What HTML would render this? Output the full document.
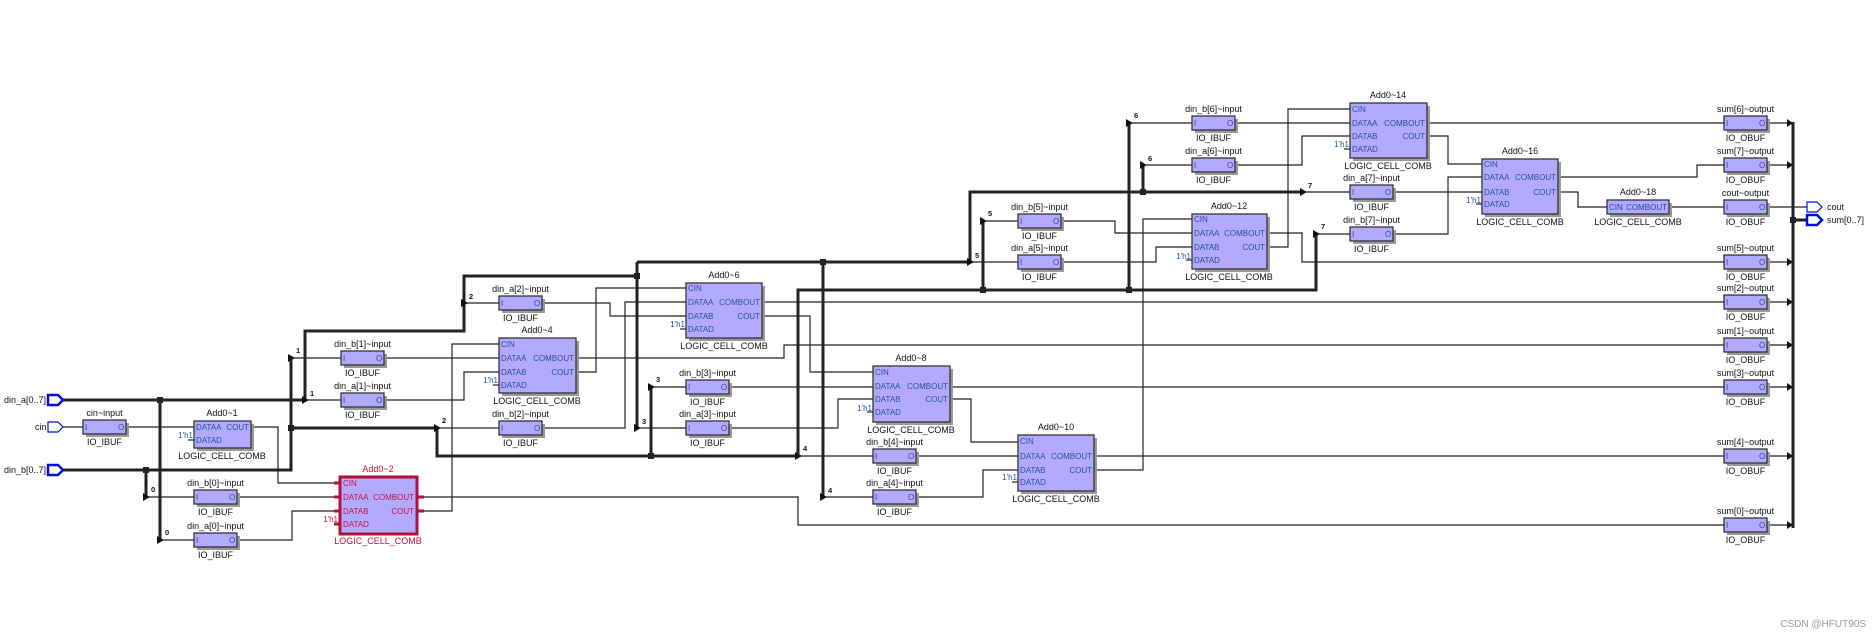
<!DOCTYPE html>
<html><head><meta charset="utf-8">
<style>
html,body{margin:0;padding:0;background:#fff;}
svg{display:block;}
text{font-family:"Liberation Sans",sans-serif;}
.t{font-size:9px;fill:#111;}
.p{font-size:8px;fill:#1f4e9e;}
.n{font-size:7.5px;fill:#111;font-weight:bold;}
.r{font-size:9px;fill:#c0103a;}
.rp{font-size:8px;fill:#c0103a;}
.box{fill:#b3aaff;stroke:#333;stroke-width:1.3;}
.sh{fill:#9a9a9a;}
.w{fill:none;stroke:#222;stroke-width:1.2;}
.b{fill:none;stroke:#222;stroke-width:3;}
</style></head><body>
<svg width="1872" height="636" viewBox="0 0 1872 636" xmlns="http://www.w3.org/2000/svg">
<rect width="1872" height="636" fill="#fff"/>

<g class="w">
<path d="M63,427H83"/>
<path d="M127,427H194"/>
<path d="M251,427H278V483H340"/>
<path d="M237,497H340"/>
<path d="M237,540H292V511H340"/>
<path d="M417,497H798V525H1724"/>
<path d="M417,511H452V344H499"/>
<path d="M382,358H499"/>
<path d="M382,400H464V372H499"/>
<path d="M576,358H784V345H1724"/>
<path d="M576,372H596V288H686"/>
<path d="M542,303H610V316H686"/>
<path d="M542,428H625V302H686"/>
<path d="M762,302H1724"/>
<path d="M762,316H810V372H873"/>
<path d="M728,387H1724"/>
<path d="M728,428H838V399H873"/>
<path d="M950,399H971V442H1018"/>
<path d="M916,456H1724"/>
<path d="M916,497H983V470H1018"/>
<path d="M1094,470H1143V219H1192"/>
<path d="M1060,221H1115V233H1192"/>
<path d="M1060,262H1156V247H1192"/>
<path d="M1267,233H1302V262H1724"/>
<path d="M1267,247H1288V109H1350"/>
<path d="M1233,123H1350"/>
<path d="M1233,165H1302V136H1350"/>
<path d="M1427,123H1724"/>
<path d="M1427,136H1448V164H1482"/>
<path d="M1392,192H1482"/>
<path d="M1392,234H1448V177H1482"/>
<path d="M1558,177H1697V165H1724"/>
<path d="M1558,192H1578V207H1607"/>
<path d="M1669,207H1724"/>
<path d="M1767,207H1807"/>
<path d="M305,400H341"/><path d="M464,303H499"/><path d="M637,428H686"/>
<path d="M970,262H1018"/><path d="M823,497H873"/><path d="M1143,165H1192"/>
<path d="M1303,192H1350"/><path d="M160,540H194"/>
<path d="M291,358H341"/><path d="M146,497H194"/><path d="M437,428H499"/>
<path d="M651,387H686"/><path d="M798,456H873"/><path d="M983,221H1018"/>
<path d="M1129,123H1192"/><path d="M1316,234H1350"/>
<path d="M1767,123H1793"/><path d="M1767,165H1793"/><path d="M1767,262H1793"/>
<path d="M1767,302H1793"/><path d="M1767,345H1793"/><path d="M1767,387H1793"/>
<path d="M1767,456H1793"/><path d="M1767,525H1793"/>
</g>

<g class="b">
<path d="M63,400H305V331H464V276H637"/>
<path d="M637,262V428"/>
<path d="M637,262H970V192H1303"/>
<path d="M160,400V540"/>
<path d="M823,262V497"/>
<path d="M1143,192V165"/>
<path d="M63,470H291V358"/>
<path d="M146,470V497"/>
<path d="M291,428H437V456H798V290H1316V234"/>
<path d="M651,456V387"/>
<path d="M983,290V221"/>
<path d="M1129,290V123"/>
<path d="M1793,122V528"/>
<path d="M1793,220H1807"/>
</g>

<g fill="#222">
<rect x="157" y="397" width="6" height="6"/><rect x="143" y="467" width="6" height="6"/>
<rect x="288" y="425" width="6" height="6"/><rect x="634" y="273" width="6" height="6"/>
<rect x="820" y="259" width="6" height="6"/><rect x="648" y="453" width="6" height="6"/>
<rect x="980" y="287" width="6" height="6"/><rect x="1126" y="287" width="6" height="6"/>
<rect x="1140" y="189" width="6" height="6"/><rect x="1790" y="217" width="6" height="6"/>
</g>

<g fill="#111">
<path d="M302,396L309,400L302,404Z"/><path d="M461,299L468,303L461,307Z"/>
<path d="M634,424L641,428L634,432Z"/><path d="M967,258L974,262L967,266Z"/>
<path d="M820,493L827,497L820,501Z"/><path d="M1140,161L1147,165L1140,169Z"/>
<path d="M1300,188L1307,192L1300,196Z"/><path d="M157,536L164,540L157,544Z"/>
<path d="M288,354L295,358L288,362Z"/><path d="M143,493L150,497L143,501Z"/>
<path d="M434,424L441,428L434,432Z"/><path d="M648,383L655,387L648,391Z"/>
<path d="M795,452L802,456L795,460Z"/><path d="M980,217L987,221L980,225Z"/>
<path d="M1126,119L1133,123L1126,127Z"/><path d="M1313,230L1320,234L1313,238Z"/>
<path d="M1787,119L1793,123L1787,127Z"/><path d="M1787,161L1793,165L1787,169Z"/>
<path d="M1787,258L1793,262L1787,266Z"/><path d="M1787,298L1793,302L1787,306Z"/>
<path d="M1787,341L1793,345L1787,349Z"/><path d="M1787,383L1793,387L1787,391Z"/>
<path d="M1787,452L1793,456L1787,460Z"/><path d="M1787,521L1793,525L1787,529Z"/>
</g>
<g class="n">
<text x="310" y="396">1</text><text x="469" y="299">2</text><text x="642" y="424">3</text>
<text x="975" y="258">5</text><text x="828" y="493">4</text><text x="1148" y="161">6</text>
<text x="1308" y="188">7</text><text x="165" y="535">0</text>
<text x="296" y="353">1</text><text x="151" y="492">0</text><text x="442" y="423">2</text>
<text x="656" y="382">3</text><text x="803" y="451">4</text><text x="988" y="216">5</text>
<text x="1134" y="118">6</text><text x="1321" y="229">7</text>
</g>

<g fill="#fff" stroke="#0010e0">
<path d="M48,395H58L63,400L58,405H48Z" stroke-width="2.5"/>
<path d="M48,422H58L63,427L58,432H48Z" stroke-width="1.2"/>
<path d="M48,465H58L63,470L58,475H48Z" stroke-width="2.5"/>
<path d="M1807,202H1817L1822,207L1817,212H1807Z" stroke-width="1.2"/>
<path d="M1807,215H1817L1822,220L1817,225H1807Z" stroke-width="2.5"/>
</g>
<g class="t">
<text x="4" y="403">din_a[0..7]</text>
<text x="35" y="430">cin</text>
<text x="4" y="473">din_b[0..7]</text>
<text x="1827" y="210">cout</text>
<text x="1827" y="223">sum[0..7]</text>
</g>

<g>
<g transform="translate(83,420)"><rect class="sh" x="3" y="3" width="43" height="14"/><rect class="box" width="43" height="14"/><text class="p" x="2" y="10">I</text><text class="p" x="35" y="10">O</text><text class="t" x="21.5" y="-4" text-anchor="middle">cin~input</text><text class="t" x="21.5" y="25" text-anchor="middle">IO_IBUF</text></g>
<g transform="translate(194,490)"><rect class="sh" x="3" y="3" width="43" height="14"/><rect class="box" width="43" height="14"/><text class="p" x="2" y="10">I</text><text class="p" x="35" y="10">O</text><text class="t" x="21.5" y="-4" text-anchor="middle">din_b[0]~input</text><text class="t" x="21.5" y="25" text-anchor="middle">IO_IBUF</text></g>
<g transform="translate(194,533)"><rect class="sh" x="3" y="3" width="43" height="14"/><rect class="box" width="43" height="14"/><text class="p" x="2" y="10">I</text><text class="p" x="35" y="10">O</text><text class="t" x="21.5" y="-4" text-anchor="middle">din_a[0]~input</text><text class="t" x="21.5" y="25" text-anchor="middle">IO_IBUF</text></g>
<g transform="translate(341,351)"><rect class="sh" x="3" y="3" width="43" height="14"/><rect class="box" width="43" height="14"/><text class="p" x="2" y="10">I</text><text class="p" x="35" y="10">O</text><text class="t" x="21.5" y="-4" text-anchor="middle">din_b[1]~input</text><text class="t" x="21.5" y="25" text-anchor="middle">IO_IBUF</text></g>
<g transform="translate(341,393)"><rect class="sh" x="3" y="3" width="43" height="14"/><rect class="box" width="43" height="14"/><text class="p" x="2" y="10">I</text><text class="p" x="35" y="10">O</text><text class="t" x="21.5" y="-4" text-anchor="middle">din_a[1]~input</text><text class="t" x="21.5" y="25" text-anchor="middle">IO_IBUF</text></g>
<g transform="translate(499,296)"><rect class="sh" x="3" y="3" width="43" height="14"/><rect class="box" width="43" height="14"/><text class="p" x="2" y="10">I</text><text class="p" x="35" y="10">O</text><text class="t" x="21.5" y="-4" text-anchor="middle">din_a[2]~input</text><text class="t" x="21.5" y="25" text-anchor="middle">IO_IBUF</text></g>
<g transform="translate(499,421)"><rect class="sh" x="3" y="3" width="43" height="14"/><rect class="box" width="43" height="14"/><text class="p" x="2" y="10">I</text><text class="p" x="35" y="10">O</text><text class="t" x="21.5" y="-4" text-anchor="middle">din_b[2]~input</text><text class="t" x="21.5" y="25" text-anchor="middle">IO_IBUF</text></g>
<g transform="translate(686,380)"><rect class="sh" x="3" y="3" width="43" height="14"/><rect class="box" width="43" height="14"/><text class="p" x="2" y="10">I</text><text class="p" x="35" y="10">O</text><text class="t" x="21.5" y="-4" text-anchor="middle">din_b[3]~input</text><text class="t" x="21.5" y="25" text-anchor="middle">IO_IBUF</text></g>
<g transform="translate(686,421)"><rect class="sh" x="3" y="3" width="43" height="14"/><rect class="box" width="43" height="14"/><text class="p" x="2" y="10">I</text><text class="p" x="35" y="10">O</text><text class="t" x="21.5" y="-4" text-anchor="middle">din_a[3]~input</text><text class="t" x="21.5" y="25" text-anchor="middle">IO_IBUF</text></g>
<g transform="translate(873,449)"><rect class="sh" x="3" y="3" width="43" height="14"/><rect class="box" width="43" height="14"/><text class="p" x="2" y="10">I</text><text class="p" x="35" y="10">O</text><text class="t" x="21.5" y="-4" text-anchor="middle">din_b[4]~input</text><text class="t" x="21.5" y="25" text-anchor="middle">IO_IBUF</text></g>
<g transform="translate(873,490)"><rect class="sh" x="3" y="3" width="43" height="14"/><rect class="box" width="43" height="14"/><text class="p" x="2" y="10">I</text><text class="p" x="35" y="10">O</text><text class="t" x="21.5" y="-4" text-anchor="middle">din_a[4]~input</text><text class="t" x="21.5" y="25" text-anchor="middle">IO_IBUF</text></g>
<g transform="translate(1018,214)"><rect class="sh" x="3" y="3" width="43" height="14"/><rect class="box" width="43" height="14"/><text class="p" x="2" y="10">I</text><text class="p" x="35" y="10">O</text><text class="t" x="21.5" y="-4" text-anchor="middle">din_b[5]~input</text><text class="t" x="21.5" y="25" text-anchor="middle">IO_IBUF</text></g>
<g transform="translate(1018,255)"><rect class="sh" x="3" y="3" width="43" height="14"/><rect class="box" width="43" height="14"/><text class="p" x="2" y="10">I</text><text class="p" x="35" y="10">O</text><text class="t" x="21.5" y="-4" text-anchor="middle">din_a[5]~input</text><text class="t" x="21.5" y="25" text-anchor="middle">IO_IBUF</text></g>
<g transform="translate(1192,116)"><rect class="sh" x="3" y="3" width="43" height="14"/><rect class="box" width="43" height="14"/><text class="p" x="2" y="10">I</text><text class="p" x="35" y="10">O</text><text class="t" x="21.5" y="-4" text-anchor="middle">din_b[6]~input</text><text class="t" x="21.5" y="25" text-anchor="middle">IO_IBUF</text></g>
<g transform="translate(1192,158)"><rect class="sh" x="3" y="3" width="43" height="14"/><rect class="box" width="43" height="14"/><text class="p" x="2" y="10">I</text><text class="p" x="35" y="10">O</text><text class="t" x="21.5" y="-4" text-anchor="middle">din_a[6]~input</text><text class="t" x="21.5" y="25" text-anchor="middle">IO_IBUF</text></g>
<g transform="translate(1350,185)"><rect class="sh" x="3" y="3" width="43" height="14"/><rect class="box" width="43" height="14"/><text class="p" x="2" y="10">I</text><text class="p" x="35" y="10">O</text><text class="t" x="21.5" y="-4" text-anchor="middle">din_a[7]~input</text><text class="t" x="21.5" y="25" text-anchor="middle">IO_IBUF</text></g>
<g transform="translate(1350,227)"><rect class="sh" x="3" y="3" width="43" height="14"/><rect class="box" width="43" height="14"/><text class="p" x="2" y="10">I</text><text class="p" x="35" y="10">O</text><text class="t" x="21.5" y="-4" text-anchor="middle">din_b[7]~input</text><text class="t" x="21.5" y="25" text-anchor="middle">IO_IBUF</text></g>
<g transform="translate(1724,116)"><rect class="sh" x="3" y="3" width="43" height="14"/><rect class="box" width="43" height="14"/><text class="p" x="2" y="10">I</text><text class="p" x="35" y="10">O</text><text class="t" x="21.5" y="-4" text-anchor="middle">sum[6]~output</text><text class="t" x="21.5" y="25" text-anchor="middle">IO_OBUF</text></g>
<g transform="translate(1724,158)"><rect class="sh" x="3" y="3" width="43" height="14"/><rect class="box" width="43" height="14"/><text class="p" x="2" y="10">I</text><text class="p" x="35" y="10">O</text><text class="t" x="21.5" y="-4" text-anchor="middle">sum[7]~output</text><text class="t" x="21.5" y="25" text-anchor="middle">IO_OBUF</text></g>
<g transform="translate(1724,200)"><rect class="sh" x="3" y="3" width="43" height="14"/><rect class="box" width="43" height="14"/><text class="p" x="2" y="10">I</text><text class="p" x="35" y="10">O</text><text class="t" x="21.5" y="-4" text-anchor="middle">cout~output</text><text class="t" x="21.5" y="25" text-anchor="middle">IO_OBUF</text></g>
<g transform="translate(1724,255)"><rect class="sh" x="3" y="3" width="43" height="14"/><rect class="box" width="43" height="14"/><text class="p" x="2" y="10">I</text><text class="p" x="35" y="10">O</text><text class="t" x="21.5" y="-4" text-anchor="middle">sum[5]~output</text><text class="t" x="21.5" y="25" text-anchor="middle">IO_OBUF</text></g>
<g transform="translate(1724,295)"><rect class="sh" x="3" y="3" width="43" height="14"/><rect class="box" width="43" height="14"/><text class="p" x="2" y="10">I</text><text class="p" x="35" y="10">O</text><text class="t" x="21.5" y="-4" text-anchor="middle">sum[2]~output</text><text class="t" x="21.5" y="25" text-anchor="middle">IO_OBUF</text></g>
<g transform="translate(1724,338)"><rect class="sh" x="3" y="3" width="43" height="14"/><rect class="box" width="43" height="14"/><text class="p" x="2" y="10">I</text><text class="p" x="35" y="10">O</text><text class="t" x="21.5" y="-4" text-anchor="middle">sum[1]~output</text><text class="t" x="21.5" y="25" text-anchor="middle">IO_OBUF</text></g>
<g transform="translate(1724,380)"><rect class="sh" x="3" y="3" width="43" height="14"/><rect class="box" width="43" height="14"/><text class="p" x="2" y="10">I</text><text class="p" x="35" y="10">O</text><text class="t" x="21.5" y="-4" text-anchor="middle">sum[3]~output</text><text class="t" x="21.5" y="25" text-anchor="middle">IO_OBUF</text></g>
<g transform="translate(1724,449)"><rect class="sh" x="3" y="3" width="43" height="14"/><rect class="box" width="43" height="14"/><text class="p" x="2" y="10">I</text><text class="p" x="35" y="10">O</text><text class="t" x="21.5" y="-4" text-anchor="middle">sum[4]~output</text><text class="t" x="21.5" y="25" text-anchor="middle">IO_OBUF</text></g>
<g transform="translate(1724,518)"><rect class="sh" x="3" y="3" width="43" height="14"/><rect class="box" width="43" height="14"/><text class="p" x="2" y="10">I</text><text class="p" x="35" y="10">O</text><text class="t" x="21.5" y="-4" text-anchor="middle">sum[0]~output</text><text class="t" x="21.5" y="25" text-anchor="middle">IO_OBUF</text></g>
</g>

<g transform="translate(499,338)"><rect class="sh" x="3" y="3" width="77" height="55"/><rect class="box" width="77" height="55"/><line class="w" x1="-6" y1="47" x2="0" y2="47"/>
<text class="p" x="2" y="9">CIN</text><text class="p" x="2" y="23">DATAA</text><text class="p" x="2" y="37">DATAB</text><text class="p" x="2" y="50">DATAD</text>
<text class="p" x="75" y="23" text-anchor="end">COMBOUT</text><text class="p" x="75" y="37" text-anchor="end">COUT</text>
<text class="p" x="-1" y="45" text-anchor="end">1'h1</text>
<text class="t" x="38" y="-5" text-anchor="middle">Add0~4</text><text class="t" x="38" y="66" text-anchor="middle">LOGIC_CELL_COMB</text></g>

<g transform="translate(686,283)"><rect class="sh" x="3" y="3" width="76" height="55"/><rect class="box" width="76" height="55"/><line class="w" x1="-6" y1="46" x2="0" y2="46"/>
<text class="p" x="2" y="8">CIN</text><text class="p" x="2" y="22">DATAA</text><text class="p" x="2" y="36">DATAB</text><text class="p" x="2" y="49">DATAD</text>
<text class="p" x="74" y="22" text-anchor="end">COMBOUT</text><text class="p" x="74" y="36" text-anchor="end">COUT</text>
<text class="p" x="-1" y="44" text-anchor="end">1'h1</text>
<text class="t" x="38" y="-5" text-anchor="middle">Add0~6</text><text class="t" x="38" y="66" text-anchor="middle">LOGIC_CELL_COMB</text></g>

<g transform="translate(873,366)"><rect class="sh" x="3" y="3" width="77" height="56"/><rect class="box" width="77" height="56"/><line class="w" x1="-6" y1="46" x2="0" y2="46"/>
<text class="p" x="2" y="9">CIN</text><text class="p" x="2" y="23">DATAA</text><text class="p" x="2" y="36">DATAB</text><text class="p" x="2" y="49">DATAD</text>
<text class="p" x="75" y="23" text-anchor="end">COMBOUT</text><text class="p" x="75" y="36" text-anchor="end">COUT</text>
<text class="p" x="-1" y="45" text-anchor="end">1'h1</text>
<text class="t" x="38" y="-5" text-anchor="middle">Add0~8</text><text class="t" x="38" y="67" text-anchor="middle">LOGIC_CELL_COMB</text></g>

<g transform="translate(1018,435)"><rect class="sh" x="3" y="3" width="76" height="56"/><rect class="box" width="76" height="56"/><line class="w" x1="-6" y1="47" x2="0" y2="47"/>
<text class="p" x="2" y="9">CIN</text><text class="p" x="2" y="24">DATAA</text><text class="p" x="2" y="38">DATAB</text><text class="p" x="2" y="50">DATAD</text>
<text class="p" x="74" y="24" text-anchor="end">COMBOUT</text><text class="p" x="74" y="38" text-anchor="end">COUT</text>
<text class="p" x="-1" y="45" text-anchor="end">1'h1</text>
<text class="t" x="38" y="-5" text-anchor="middle">Add0~10</text><text class="t" x="38" y="67" text-anchor="middle">LOGIC_CELL_COMB</text></g>

<g transform="translate(1192,214)"><rect class="sh" x="3" y="3" width="75" height="55"/><rect class="box" width="75" height="55"/><line class="w" x1="-6" y1="46" x2="0" y2="46"/>
<text class="p" x="2" y="8">CIN</text><text class="p" x="2" y="22">DATAA</text><text class="p" x="2" y="36">DATAB</text><text class="p" x="2" y="49">DATAD</text>
<text class="p" x="73" y="22" text-anchor="end">COMBOUT</text><text class="p" x="73" y="36" text-anchor="end">COUT</text>
<text class="p" x="-1" y="45" text-anchor="end">1'h1</text>
<text class="t" x="37" y="-5" text-anchor="middle">Add0~12</text><text class="t" x="37" y="66" text-anchor="middle">LOGIC_CELL_COMB</text></g>

<g transform="translate(1350,103)"><rect class="sh" x="3" y="3" width="77" height="55"/><rect class="box" width="77" height="55"/><line class="w" x1="-6" y1="46" x2="0" y2="46"/>
<text class="p" x="2" y="9">CIN</text><text class="p" x="2" y="23">DATAA</text><text class="p" x="2" y="36">DATAB</text><text class="p" x="2" y="49">DATAD</text>
<text class="p" x="75" y="23" text-anchor="end">COMBOUT</text><text class="p" x="75" y="36" text-anchor="end">COUT</text>
<text class="p" x="-1" y="44" text-anchor="end">1'h1</text>
<text class="t" x="38" y="-5" text-anchor="middle">Add0~14</text><text class="t" x="38" y="66" text-anchor="middle">LOGIC_CELL_COMB</text></g>

<g transform="translate(1482,159)"><rect class="sh" x="3" y="3" width="76" height="55"/><rect class="box" width="76" height="55"/><line class="w" x1="-6" y1="45" x2="0" y2="45"/>
<text class="p" x="2" y="8">CIN</text><text class="p" x="2" y="21">DATAA</text><text class="p" x="2" y="36">DATAB</text><text class="p" x="2" y="48">DATAD</text>
<text class="p" x="74" y="21" text-anchor="end">COMBOUT</text><text class="p" x="74" y="36" text-anchor="end">COUT</text>
<text class="p" x="-1" y="44" text-anchor="end">1'h1</text>
<text class="t" x="38" y="-5" text-anchor="middle">Add0~16</text><text class="t" x="38" y="66" text-anchor="middle">LOGIC_CELL_COMB</text></g>

<g transform="translate(194,421)"><rect class="sh" x="3" y="3" width="57" height="27"/><rect class="box" width="57" height="27"/><line class="w" x1="-6" y1="19" x2="0" y2="19"/>
<text class="p" x="2" y="9">DATAA</text><text class="p" x="2" y="22">DATAD</text>
<text class="p" x="55" y="9" text-anchor="end">COUT</text>
<text class="p" x="-1" y="17" text-anchor="end">1'h1</text>
<text class="t" x="28" y="-5" text-anchor="middle">Add0~1</text><text class="t" x="28" y="38" text-anchor="middle">LOGIC_CELL_COMB</text></g>

<g transform="translate(1607,200)"><rect class="sh" x="3" y="3" width="62" height="14"/><rect class="box" width="62" height="14"/>
<text class="p" x="2" y="10">CIN</text><text class="p" x="60" y="10" text-anchor="end">COMBOUT</text>
<text class="t" x="31" y="-5" text-anchor="middle">Add0~18</text><text class="t" x="31" y="25" text-anchor="middle">LOGIC_CELL_COMB</text></g>

<g transform="translate(340,477)">
<rect width="77" height="57" fill="#b3aaff" stroke="#b0103a" stroke-width="3"/>
<g stroke="#b0103a" stroke-width="3"><line x1="-6" y1="6" x2="0" y2="6"/><line x1="-6" y1="20" x2="0" y2="20"/><line x1="-6" y1="34" x2="0" y2="34"/><line x1="-6" y1="47" x2="0" y2="47"/><line x1="77" y1="20" x2="84" y2="20"/><line x1="77" y1="34" x2="84" y2="34"/></g>
<text class="rp" x="3" y="9">CIN</text><text class="rp" x="3" y="23">DATAA</text><text class="rp" x="3" y="37">DATAB</text><text class="rp" x="3" y="50">DATAD</text>
<text class="rp" x="74" y="23" text-anchor="end">COMBOUT</text><text class="rp" x="74" y="37" text-anchor="end">COUT</text>
<text class="rp" x="-2" y="45" text-anchor="end">1'h1</text>
<text class="r" x="38" y="-5" text-anchor="middle">Add0~2</text><text class="r" x="38" y="67" text-anchor="middle">LOGIC_CELL_COMB</text></g>

<text x="1866" y="627" font-size="10" fill="#999" text-anchor="end" style="font-family:'Liberation Sans','Noto Sans CJK SC',sans-serif">CSDN @HFUT90S</text>
</svg>
</body></html>
